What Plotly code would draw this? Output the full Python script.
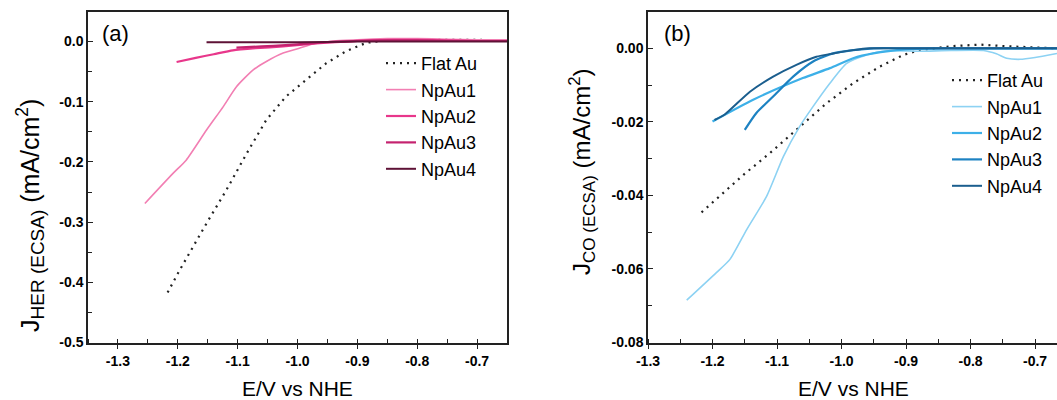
import plotly.graph_objects as go

# ---------------- Panel (a): HER ----------------
a_flat_x = [-1.217, -1.197, -1.152, -1.119, -1.085, -1.052, -1.019, -0.985, -0.952, -0.919, -0.885, -0.852, -0.8, -0.75, -0.692]
a_flat_y = [-0.417, -0.38, -0.302, -0.247, -0.186, -0.13, -0.091, -0.063, -0.036, -0.016, -0.002, 0.002, 0.003, 0.003, 0.003]

a_np1_x = [-1.255, -1.208, -1.186, -1.152, -1.124, -1.102, -1.074, -1.052, -1.024, -0.997, -0.974, -0.94, -0.9, -0.85, -0.8, -0.75, -0.7, -0.65]
a_np1_y = [-0.269, -0.219, -0.197, -0.147, -0.108, -0.075, -0.047, -0.033, -0.019, -0.011, -0.004, 0.001, 0.003, 0.005, 0.005, 0.004, 0.003, 0.003]

a_np2_x = [-1.202, -1.17, -1.14, -1.108, -1.07, -1.024, -0.969, -0.92, -0.88, -0.84, -0.8, -0.75, -0.7, -0.65]
a_np2_y = [-0.034, -0.027, -0.021, -0.0145, -0.011, -0.008, -0.003, 0.0, 0.002, 0.003, 0.003, 0.002, 0.001, 0.001]

a_np3_x = [-1.102, -1.06, -1.02, -0.98, -0.95, -0.9, -0.85, -0.8, -0.75, -0.7, -0.65]
a_np3_y = [-0.01, -0.008, -0.006, -0.003, -0.001, 0.001, 0.002, 0.002, 0.001, 0.001, 0.001]

a_np4_x = [-1.152, -1.0, -0.9, -0.8, -0.7, -0.65]
a_np4_y = [-0.001, -0.001, 0.0, 0.0, 0.0, 0.0]

# ---------------- Panel (b): CO ----------------
b_flat_x = [-1.217, -1.189, -1.152, -1.111, -1.065, -1.023, -0.982, -0.941, -0.904, -0.879, -0.827, -0.785, -0.75, -0.7, -0.67]
b_flat_y = [-0.0446, -0.0402, -0.0344, -0.0285, -0.0213, -0.0149, -0.0095, -0.005, -0.0018, -0.0005, 0.0006, 0.001, 0.0006, 0.0002, 0.0]

b_np1_x = [-1.24, -1.194, -1.173, -1.147, -1.116, -1.09, -1.065, -1.044, -1.018, -0.992, -0.961, -0.93, -0.88, -0.83, -0.78, -0.76, -0.744, -0.723, -0.7, -0.666]
b_np1_y = [-0.0685, -0.061, -0.0574, -0.0493, -0.0402, -0.0294, -0.0213, -0.0158, -0.0095, -0.0041, -0.0018, -0.0007, -0.0008, -0.0006, -0.0006, -0.0015, -0.0027, -0.003, -0.0025, -0.0014]

b_np2_x = [-1.2, -1.137, -1.06, -1.018, -0.982, -0.951, -0.9, -0.85, -0.8, -0.7, -0.666]
b_np2_y = [-0.0199, -0.014, -0.0081, -0.0054, -0.0027, -0.0014, -0.0003, 0.0, 0.0, 0.0, 0.0]

b_np3_x = [-1.15, -1.132, -1.106, -1.075, -1.044, -1.013, -0.982, -0.95, -0.9, -0.8, -0.7, -0.666]
b_np3_y = [-0.0222, -0.0176, -0.0131, -0.0077, -0.0036, -0.0014, -0.0005, 0.0, 0.0, 0.0, 0.0, 0.0]

b_np4_x = [-1.197, -1.181, -1.142, -1.106, -1.07, -1.039, -1.013, -0.982, -0.956, -0.9, -0.8, -0.7, -0.666]
b_np4_y = [-0.0195, -0.018, -0.0118, -0.0077, -0.0045, -0.0023, -0.0014, -0.0005, 0.0, 0.0, 0.0, 0.0, 0.0]

series_names = ["Flat Au", "NpAu1", "NpAu2", "NpAu3", "NpAu4"]

# tick labels
x_tickvals = [-1.3, -1.2, -1.1, -1.0, -0.9, -0.8, -0.7]
x_ticktext = ["-1.3", "-1.2", "-1.1", "-1.0", "-0.9", "-0.8", "-0.7"]
a_y_tickvals = [0.0, -0.1, -0.2, -0.3, -0.4, -0.5]
a_y_ticktext = ["0.0", "-0.1", "-0.2", "-0.3", "-0.4", "-0.5"]
b_y_tickvals = [0.0, -0.02, -0.04, -0.06, -0.08]
b_y_ticktext = ["0.00", "-0.02", "-0.04", "-0.06", "-0.08"]

pink = ["#f27fb3", "#e8378b", "#c4226f", "#5e1236"]
blue = ["#8dd2f3", "#3db0e8", "#1d82c2", "#1b5e8e"]
widths = [1.6, 2.2, 2.2, 2.0]

FONT = "Liberation Sans, Arial, sans-serif"

fig = go.Figure()

a_sets = [(a_flat_x, a_flat_y), (a_np1_x, a_np1_y), (a_np2_x, a_np2_y), (a_np3_x, a_np3_y), (a_np4_x, a_np4_y)]
b_sets = [(b_flat_x, b_flat_y), (b_np1_x, b_np1_y), (b_np2_x, b_np2_y), (b_np3_x, b_np3_y), (b_np4_x, b_np4_y)]

for i, (xs, ys) in enumerate(a_sets):
    if i == 0:
        line = dict(color="#222222", width=2.2, dash="2px,5px")
    else:
        line = dict(color=pink[i - 1], width=widths[i - 1], shape="spline", smoothing=0.6)
    fig.add_trace(go.Scatter(x=xs, y=ys, mode="lines", name=series_names[i], line=line,
                             xaxis="x", yaxis="y", legend="legend"))

for i, (xs, ys) in enumerate(b_sets):
    if i == 0:
        line = dict(color="#222222", width=2.2, dash="2px,5px")
    else:
        line = dict(color=blue[i - 1], width=widths[i - 1], shape="spline", smoothing=0.6)
    fig.add_trace(go.Scatter(x=xs, y=ys, mode="lines", name=series_names[i], line=line,
                             xaxis="x2", yaxis="y2", legend="legend2"))

tickfont = dict(family=FONT, size=14, color="black", weight="bold")

def xax(domain, rng, anchor):
    return dict(domain=domain, range=rng, anchor=anchor, showgrid=False, zeroline=False,
                showline=True, linecolor="#222", linewidth=1.5, mirror=True,
                tickmode="array", tickvals=x_tickvals, ticktext=x_ticktext,
                ticks="outside", ticklen=5, tickwidth=1.3, tickcolor="#222",
                tickfont=tickfont, automargin=False,
                minor=dict(dtick=0.05, tick0=-1.3, ticks="inside", ticklen=4, tickwidth=1.2, tickcolor="#222"))

def yax(domain, rng, anchor, vals, text, minor_dtick, mirror):
    return dict(domain=domain, range=rng, anchor=anchor, showgrid=False, zeroline=False,
                showline=True, linecolor="#222", linewidth=1.5, mirror=mirror,
                tickmode="array", tickvals=vals, ticktext=text,
                ticks="inside", ticklen=5, tickwidth=1.3, tickcolor="#222",
                tickfont=tickfont, automargin=False,
                minor=dict(dtick=minor_dtick, tick0=0, ticks="inside", ticklen=4, tickwidth=1.2, tickcolor="#222"))

W, H = 1057, 400
ydom = [1 - 342.5 / H, 1 - 11.5 / H]

fig.update_layout(
    width=W, height=H,
    margin=dict(l=0, r=0, t=0, b=0, autoexpand=False),
    paper_bgcolor="white", plot_bgcolor="white",
    font=dict(family=FONT, color="black"),
    xaxis=xax([88 / W, 507 / W], [-1.35, -0.65], "y"),
    yaxis=yax(ydom, [-0.5, 0.05], "x", a_y_tickvals, a_y_ticktext, 0.05, True),
    xaxis2=xax([648 / W, 1.0], [-1.3, -0.666], "y2"),
    yaxis2=yax(ydom, [-0.08, 0.01], "x2", b_y_tickvals, b_y_ticktext, 0.01, False),
    legend=dict(x=381 / W, y=1 - 45 / H, xanchor="left", yanchor="top",
                font=dict(family=FONT, size=18, color="black"), bgcolor="rgba(0,0,0,0)",
                tracegroupgap=0, itemwidth=30),
    legend2=dict(x=947 / W, y=1 - 62 / H, xanchor="left", yanchor="top",
                 font=dict(family=FONT, size=18, color="black"), bgcolor="rgba(0,0,0,0)",
                 tracegroupgap=0, itemwidth=30),
    showlegend=True,
)

annotations = [
    dict(text="(a)", x=100 / W, y=1 - 33 / H, xref="paper", yref="paper", xanchor="left", yanchor="middle",
         showarrow=False, font=dict(family=FONT, size=22, color="black")),
    dict(text="(b)", x=662 / W, y=1 - 33 / H, xref="paper", yref="paper", xanchor="left", yanchor="middle",
         showarrow=False, font=dict(family=FONT, size=22, color="black")),
    dict(text="E/V vs NHE", x=297 / W, y=1 - 388 / H, xref="paper", yref="paper", xanchor="center", yanchor="middle",
         showarrow=False, font=dict(family=FONT, size=21, color="black")),
    dict(text="E/V vs NHE", x=853 / W, y=1 - 388 / H, xref="paper", yref="paper", xanchor="center", yanchor="middle",
         showarrow=False, font=dict(family=FONT, size=21, color="black")),
    dict(text="J<sub><span style='font-size:19px'>HER (ECSA)</span></sub> (mA/cm<sup>2</sup>)",
         x=30 / W, y=1 - 216 / H, xref="paper", yref="paper",
         xanchor="center", yanchor="middle", textangle=-90, showarrow=False,
         font=dict(family=FONT, size=25, color="black")),
    dict(text="J<sub><span style='font-size:17px'>CO (ECSA)</span></sub> (mA/cm<sup>2</sup>)",
         x=582 / W, y=1 - 172 / H, xref="paper", yref="paper",
         xanchor="center", yanchor="middle", textangle=-90, showarrow=False,
         font=dict(family=FONT, size=24, color="black")),
]
fig.update_layout(annotations=annotations)

fig.write_html("out.html", config={"displayModeBar": False},
               post_script="document.body.style.margin='0';document.body.style.overflow='hidden';")
